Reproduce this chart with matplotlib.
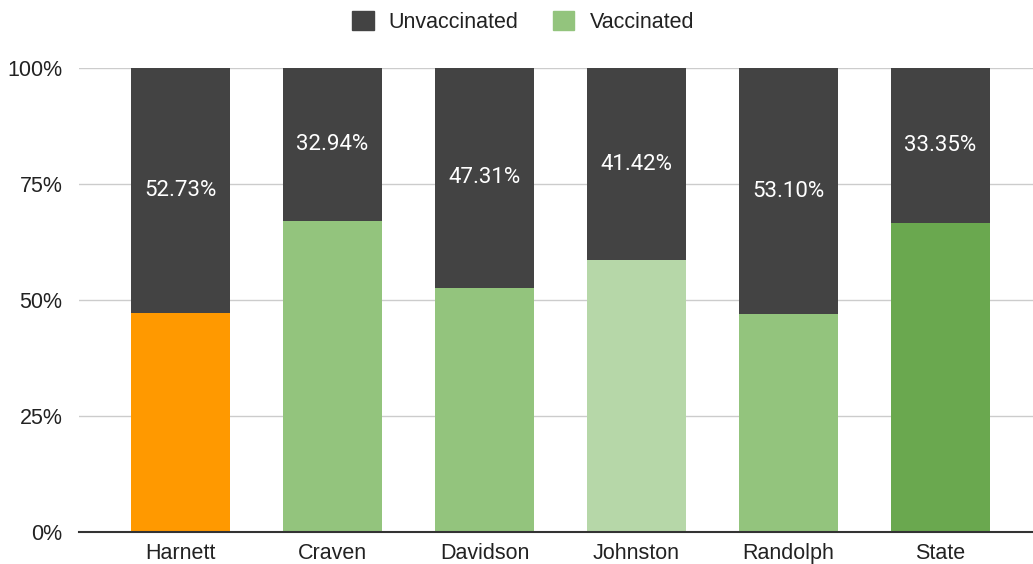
import matplotlib
matplotlib.use("Agg")
import matplotlib.pyplot as plt
from matplotlib.patches import Patch

counties = ["Harnett", "Craven", "Davidson", "Johnston", "Randolph", "State"]
vaccinated = [47.27, 67.06, 52.69, 58.58, 46.90, 66.65]
unvaccinated = [52.73, 32.94, 47.31, 41.42, 53.10, 33.35]
vacc_colors = ["#ff9900", "#93c47d", "#93c47d", "#b6d7a8", "#93c47d", "#6aa84f"]
unvacc_color = "#434343"

plt.rcParams['font.family'] = ['Liberation Sans', 'DejaVu Sans']

fig = plt.figure(figsize=(10.33, 5.64), dpi=100)
ax = fig.add_axes([79 / 1033, 32 / 564, 1 - 79 / 1033, 464 / 564])

x = list(range(len(counties)))
ax.bar(x, vaccinated, width=0.65, color=vacc_colors, zorder=3)
ax.bar(x, unvaccinated, width=0.65, bottom=vaccinated, color=unvacc_color, zorder=3)

# labels in the middle of the unvaccinated part
for i in x:
    ax.text(i, vaccinated[i] + unvaccinated[i] / 2, "%.2f%%" % unvaccinated[i],
            ha="center", va="center", color="white", fontsize=16,
            family=["Roboto", "DejaVu Sans"], zorder=4)

ax.set_xlim(-0.668, 5.609)
ax.set_ylim(0, 100)
ax.set_yticks([0, 25, 50, 75, 100])
ax.set_yticklabels(["0%", "25%", "50%", "75%", "100%"])
ax.set_xticks(x)
ax.set_xticklabels(counties)
ax.tick_params(length=0, labelsize=15.5, labelcolor="#222222")
ax.tick_params(axis="y", pad=12)
ax.tick_params(axis="x", pad=8)
ax.grid(axis="y", color="#cccccc", linewidth=1, zorder=0)
for s in ["top", "right", "left"]:
    ax.spines[s].set_visible(False)
ax.spines["bottom"].set_color("#333333")
ax.spines["bottom"].set_linewidth(1.5)
ax.spines["bottom"].set_zorder(5)

handles = [Patch(color=unvacc_color, label="Unvaccinated"),
           Patch(color="#93c47d", label="Vaccinated")]
fig.legend(handles=handles, loc="center", bbox_to_anchor=(523 / 1033, 1 - 22 / 564),
           ncol=2, frameon=False, fontsize=15.5, handlelength=1.0, handleheight=1.0,
           handletextpad=0.7, columnspacing=1.6, labelcolor="#222222")

fig.savefig("out.png", dpi=100)
